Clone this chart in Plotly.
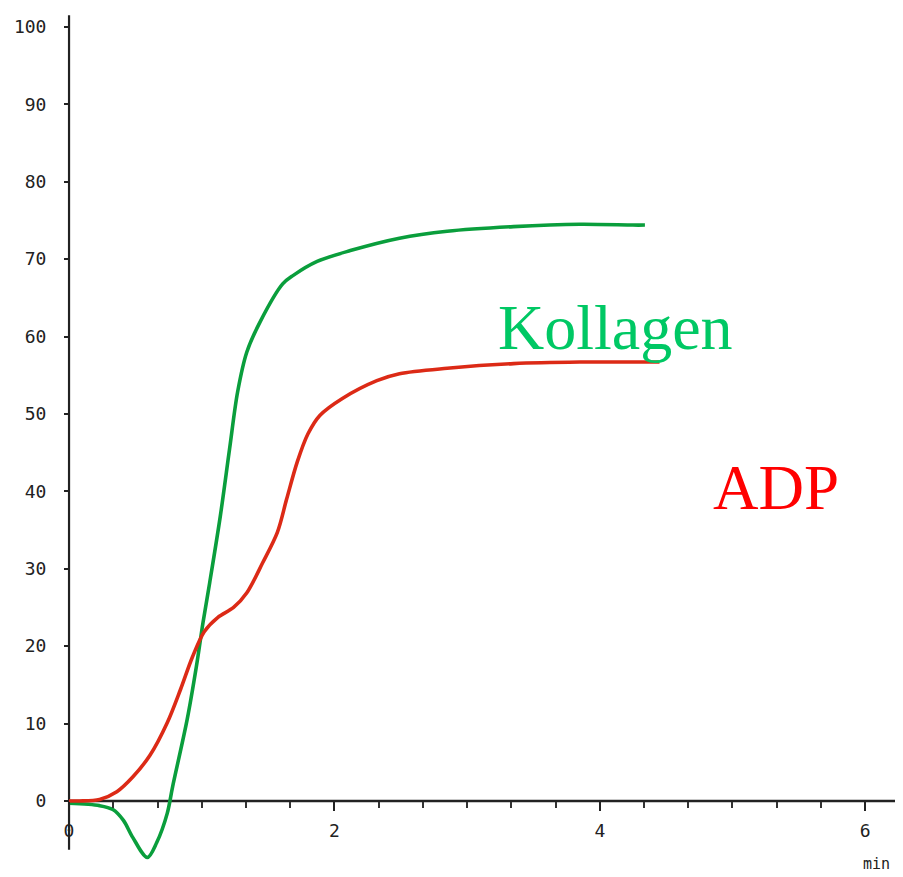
import plotly.graph_objects as go

# --- data (time in min, aggregation in %) ---
kollagen_t = [0.0, 0.23, 0.33, 0.41, 0.48, 0.59, 0.66, 0.74, 0.78, 0.89, 0.96, 1.01, 1.06, 1.14,
              1.21, 1.27, 1.34, 1.44, 1.61, 1.69, 1.87, 2.12, 2.49, 2.85, 3.35, 3.85, 4.25, 4.34]
kollagen_v = [-0.3, -0.6, -1.1, -2.5, -4.7, -7.3, -5.4, -1.6, 1.8, 10.5, 17.4, 23.1, 28.2, 36.8,
              45.5, 52.8, 58.0, 61.9, 66.8, 67.9, 69.7, 71.1, 72.7, 73.6, 74.2, 74.5, 74.4, 74.4]

adp_t = [0.0, 0.08, 0.23, 0.36, 0.48, 0.61, 0.74, 0.84, 0.93, 1.02, 1.12, 1.24, 1.34, 1.46,
         1.57, 1.64, 1.72, 1.80, 1.89, 2.06, 2.32, 2.49, 2.85, 3.35, 3.85, 4.45]
adp_v = [0.0, 0.0, 0.2, 1.2, 3.1, 5.9, 10.1, 14.4, 18.6, 21.9, 23.7, 25.0, 26.9, 30.8,
         34.7, 39.0, 43.8, 47.4, 49.8, 52.0, 54.3, 55.2, 55.9, 56.5, 56.7, 56.7]

y_ticks = [0, 10, 20, 30, 40, 50, 60, 70, 80, 90, 100]
x_ticks = [0, 2, 4, 6]
x_ticktext = ["0", "2", "4", "6"]
x_minor_ticks = [1/3, 2/3, 1, 4/3, 5/3, 7/3, 8/3, 3, 10/3, 11/3, 13/3, 14/3, 5, 16/3, 17/3]

# page has an 8px body margin: figure drawn from (8, 8)
OFF = 8
W, H = 903 - OFF, 877 - OFF
XR = [-0.46, 6.285]
YR = [-9.82, 102.44]


def px_x(p):  # window pixel -> paper x
    return (p - OFF) / W


def px_y(p):  # window pixel -> paper y
    return (877 - p) / H


fig = go.Figure()
fig.add_trace(go.Scatter(x=kollagen_t, y=kollagen_v, mode="lines", name="Kollagen",
                         line=dict(color="#0a9e3c", width=3.6, shape="spline", smoothing=0.9)))
fig.add_trace(go.Scatter(x=adp_t, y=adp_v, mode="lines", name="ADP",
                         line=dict(color="#dc2a16", width=3.6, shape="spline", smoothing=0.9)))

# axis lines
fig.add_shape(type="line", xref="x", yref="y", x0=0, x1=0, y0=-6.3, y1=101.5,
              line=dict(color="#222222", width=2.2), layer="below")
fig.add_shape(type="line", xref="x", yref="y", x0=0, x1=XR[1], y0=0, y1=0,
              line=dict(color="#222222", width=2.5), layer="below")

tickfont = dict(family="DejaVu Sans Mono", size=18, color="#222222")

fig.update_layout(
    width=W, height=H,
    margin=dict(l=0, r=0, t=0, b=0, autoexpand=False),
    paper_bgcolor="white", plot_bgcolor="white",
    showlegend=False,
    xaxis=dict(range=XR, anchor="free", position=(0 - YR[0]) / (YR[1] - YR[0]),
               automargin=False,
               showgrid=False, zeroline=False, showline=False,
               tickmode="array", tickvals=x_ticks, ticktext=x_ticktext,
               ticks="outside", ticklen=9, tickwidth=2, tickcolor="#222222",
               tickfont=tickfont, ticklabelstandoff=4,
               minor=dict(tickmode="array", tickvals=x_minor_ticks, ticks="outside",
                          ticklen=6, tickwidth=1.5, tickcolor="#333333", showgrid=False)),
    yaxis=dict(range=YR, anchor="free", position=(0 - XR[0]) / (XR[1] - XR[0]),
               automargin=False,
               showgrid=False, zeroline=False, showline=False,
               tickmode="array", tickvals=y_ticks,
               ticks="outside", ticklen=5, tickwidth=2, tickcolor="#222222",
               tickfont=tickfont, ticklabelstandoff=14),
)

fig.add_annotation(text="Kollagen", xref="paper", yref="paper",
                   x=px_x(496), y=px_y(365), xanchor="left", yanchor="bottom",
                   showarrow=False,
                   font=dict(family="Liberation Serif", size=64, color="#00c864"))
fig.add_annotation(text="ADP", xref="paper", yref="paper",
                   x=px_x(711), y=px_y(525), xanchor="left", yanchor="bottom",
                   showarrow=False,
                   font=dict(family="Liberation Serif", size=63, color="#ff0000"))
fig.add_annotation(text="min", xref="paper", yref="paper",
                   x=px_x(876), y=px_y(864), xanchor="center", yanchor="middle",
                   showarrow=False,
                   font=dict(family="DejaVu Sans Mono", size=15, color="#222222"))

fig.write_html("out.html")
